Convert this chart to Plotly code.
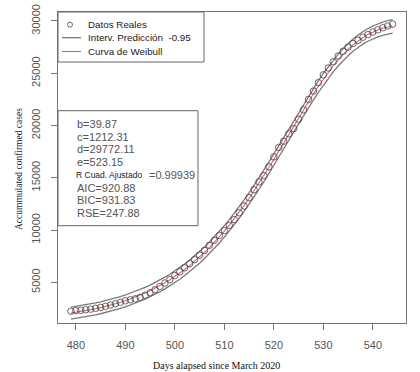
import plotly.graph_objects as go

days = list(range(479, 545))

cases = [2230, 2290, 2320, 2370, 2430, 2510, 2600, 2700, 2820, 2950,
         3090, 3230, 3320, 3420, 3560, 3760, 4000, 4280, 4600, 4930,
         5260, 5640, 6000, 6380, 6780, 7170, 7600, 8050, 8540, 9020,
         9480, 9950, 10450, 11000, 11650, 12300, 13100, 13850, 14600, 15200,
         16050, 17000, 17900, 18500, 19200, 19700, 20600, 21500, 22500, 23300,
         24100, 24850, 25500, 26100, 26650, 27100, 27500, 27850, 28150, 28450,
         28700, 28950, 29150, 29350, 29520, 29700]

weibull = [2049, 2120, 2197, 2280, 2371, 2468, 2573, 2687, 2809, 2941,
           3084, 3236, 3401, 3579, 3769, 3973, 4193, 4428, 4680, 4949,
           5237, 5545, 5874, 6224, 6596, 6991, 7409, 7855, 8325, 8823,
           9344, 9893, 10470, 11073, 11704, 12360, 13040, 13744, 14470, 15215,
           15980, 16758, 17549, 18344, 19145, 19945, 20739, 21523, 22290, 23038,
           23758, 24449, 25103, 25718, 26288, 26813, 27289, 27716, 28094, 28423,
           28705, 28943, 29140, 29299, 29426, 29525]

pred_upper = [2620, 2690, 2765, 2845, 2935, 3030, 3135, 3245, 3365, 3495,
              3635, 3785, 3950, 4125, 4315, 4515, 4735, 4970, 5220, 5490,
              5775, 6085, 6410, 6760, 7130, 7525, 7940, 8385, 8855, 9350,
              9870, 10420, 10995, 11600, 12230, 12885, 13565, 14270, 14995, 15740,
              16505, 17285, 18075, 18870, 19670, 20470, 21265, 22050, 22820, 23570,
              24290, 24985, 25640, 26260, 26835, 27365, 27845, 28275, 28655, 28990,
              29275, 29520, 29725, 29890, 30025, 30130]

pred_lower = [1470, 1540, 1615, 1700, 1790, 1885, 1990, 2105, 2225, 2355,
              2500, 2650, 2815, 2995, 3185, 3390, 3610, 3845, 4100, 4370,
              4655, 4965, 5295, 5645, 6015, 6410, 6830, 7275, 7745, 8245,
              8765, 9315, 9890, 10495, 11125, 11780, 12460, 13165, 13890, 14635,
              15400, 16180, 16970, 17765, 18565, 19365, 20160, 20940, 21710, 22455,
              23175, 23865, 24515, 25125, 25690, 26210, 26680, 27100, 27470, 27790,
              28065, 28295, 28485, 28635, 28755, 28850]

x_ticks = [480, 490, 500, 510, 520, 530, 540]
y_ticks = [5000, 10000, 15000, 20000, 25000, 30000]
y_tick_labels = ["5000", "10000", "15000", "20000", "25000", "30000"]

legend_labels = ["Datos Reales", "Interv. Predicción  -0.95", "Curva de Weibull"]
stats_lines = ["b=39.87", "c=1212.31", "d=29772.11", "e=523.15",
               None, "AIC=920.88", "BIC=931.83", "RSE=247.88"]

PT_COLOR = "#444444"
PI_COLOR = "#7a7a7a"
FIT_COLOR = "#e8606a"

FIG_W, FIG_H = 420, 372
# plot-area geometry (pixels)
L, R, T, B = 58, 406, 12, 323
W, H = R - L, B - T


def px(xp):
    return (xp - L) / W


def py(yp):
    return 1 - (yp - T) / H


fig = go.Figure()
fig.add_trace(go.Scatter(x=days, y=pred_upper, mode="lines", name=legend_labels[1],
                         line=dict(color=PI_COLOR, width=1.3)))
fig.add_trace(go.Scatter(x=days, y=pred_lower, mode="lines", name=legend_labels[1],
                         line=dict(color=PI_COLOR, width=1.3)))
fig.add_trace(go.Scatter(x=days, y=weibull, mode="lines", name=legend_labels[2],
                         line=dict(color=FIT_COLOR, width=1.1)))
fig.add_trace(go.Scatter(x=days, y=cases, mode="markers", name=legend_labels[0],
                         marker=dict(symbol="circle-open", size=6.5,
                                     color=PT_COLOR, line=dict(width=0.8))))

axis_common = dict(showgrid=False, zeroline=False, showline=True, mirror=True,
                   linecolor="#777777", linewidth=1.2, ticks="outside",
                   ticklen=6, tickcolor="#777777", automargin=False,
                   ticklabeloverflow="allow",
                   tickfont=dict(family="Liberation Sans, Arial", size=11,
                                 color="#555555"))

fig.update_xaxes(range=[476.4, 546.7], tickvals=x_ticks,
                 ticklabelstandoff=6, **axis_common)
fig.update_yaxes(range=[1105, 30860], tickvals=y_ticks, ticktext=y_tick_labels,
                 tickangle=-90, ticklabelstandoff=7, **axis_common)

# legend box (drawn manually, R style)
fig.add_shape(type="rect", xref="paper", yref="paper",
              x0=px(58), x1=px(204), y0=py(62), y1=py(12),
              line=dict(color="#666666", width=1), fillcolor="white", layer="above")
fig.add_shape(type="circle", xref="paper", yref="paper",
              x0=px(67.5), x1=px(72.5), y0=py(27.2), y1=py(22.2),
              line=dict(color=PT_COLOR, width=0.8), layer="above")
fig.add_shape(type="line", xref="paper", yref="paper",
              x0=px(62), x1=px(81), y0=py(37.7), y1=py(37.7),
              line=dict(color=PI_COLOR, width=1.3), layer="above")
fig.add_shape(type="line", xref="paper", yref="paper",
              x0=px(62), x1=px(81), y0=py(51.5), y1=py(51.5),
              line=dict(color=FIT_COLOR, width=1.1), layer="above")
for txt, yy in zip(legend_labels, [24.7, 37.7, 51.5]):
    fig.add_annotation(text=txt, xref="paper", yref="paper",
                       x=px(86), y=py(yy), xanchor="left", yanchor="middle",
                       showarrow=False,
                       font=dict(family="Liberation Sans, Arial", size=9.8,
                                 color="#222222"))

# statistics box
fig.add_shape(type="rect", xref="paper", yref="paper",
              x0=px(58), x1=px(198), y0=py(225.7), y1=py(110.7),
              line=dict(color="#666666", width=1), fillcolor="white", layer="above")

line_y = [124, 136.7, 149.4, 162, 174.7, 187.5, 200.2, 212.8]
for txt, yy in zip(stats_lines, line_y):
    if txt is None:
        continue
    fig.add_annotation(text=txt, xref="paper", yref="paper",
                       x=px(75), y=py(yy),
                       xanchor="left", yanchor="middle", showarrow=False,
                       font=dict(family="Liberation Sans, Arial", size=11,
                                 color="#555555"))
fig.add_annotation(text="R Cuad. Ajustado", xref="paper", yref="paper",
                   x=px(74), y=py(line_y[4]),
                   xanchor="left", yanchor="middle", showarrow=False,
                   font=dict(family="Liberation Sans, Arial", size=8.5,
                             color="#222222"))
fig.add_annotation(text="=0.99939", xref="paper", yref="paper",
                   x=px(147), y=py(line_y[4]),
                   xanchor="left", yanchor="middle", showarrow=False,
                   font=dict(family="Liberation Sans, Arial", size=11,
                             color="#555555"))

# axis titles
fig.add_annotation(text="Accummulated confirmed cases", xref="paper", yref="paper",
                   x=px(19), y=py(169), textangle=-90,
                   xanchor="center", yanchor="middle", showarrow=False,
                   font=dict(family="Liberation Serif, Times New Roman", size=9.5,
                             color="#1a1a40"))
fig.add_annotation(text="Days alapsed since March 2020", xref="paper", yref="paper",
                   x=px(216), y=py(365.5),
                   xanchor="center", yanchor="middle", showarrow=False,
                   font=dict(family="Liberation Serif, Times New Roman", size=10,
                             color="#111111"))

fig.update_layout(
    width=FIG_W, height=FIG_H,
    margin=dict(l=L, r=FIG_W - R, t=T, b=FIG_H - B, autoexpand=False),
    paper_bgcolor="white", plot_bgcolor="white",
    showlegend=False,
)

# remove the default 8px page margin so the figure fills the window exactly
fig.write_html("out.html",
               config={"displayModeBar": False},
               post_script="document.body.style.margin='0';"
                           "document.body.style.overflow='hidden';")
